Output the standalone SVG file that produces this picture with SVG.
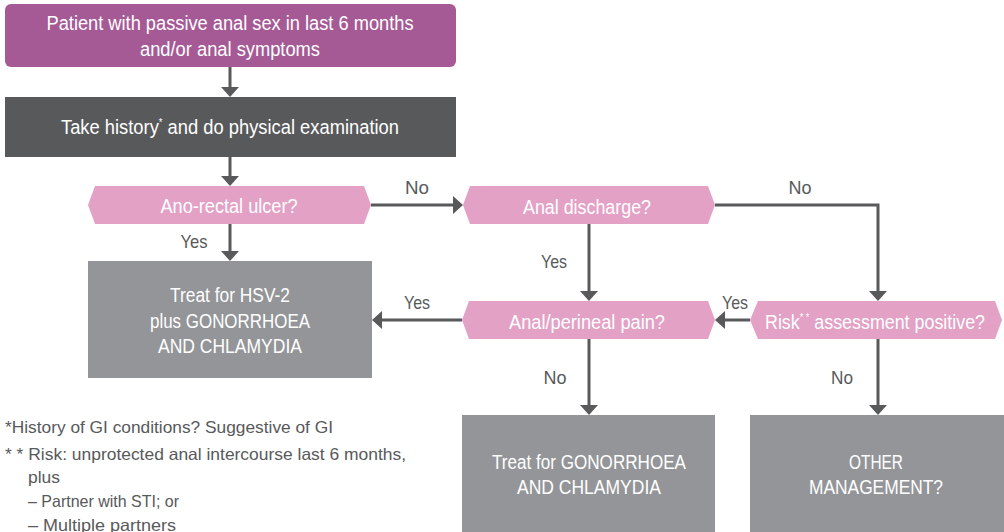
<svg xmlns="http://www.w3.org/2000/svg" width="1004" height="532" viewBox="0 0 1004 532">
<defs>
<style>
.t{font-family:"Liberation Sans Narrow","Liberation Sans",Arial,sans-serif;font-size:19.5px;fill:#ffffff;text-anchor:middle}
.l{font-family:"Liberation Sans Narrow","Liberation Sans",Arial,sans-serif;font-size:19px;fill:#58595B;text-anchor:middle}
.f{font-family:"Liberation Sans Narrow","Liberation Sans",Arial,sans-serif;font-size:16.5px;fill:#58595B}
.hex{fill:#E3A1C6}
.box{fill:#939598}
.c{fill:none;stroke:#58595B;stroke-width:3}
</style>
<marker id="ah" markerUnits="userSpaceOnUse" markerWidth="11" markerHeight="19" refX="2" refY="9" orient="auto" viewBox="0 0 11 18">
<path d="M0,0 L10,9 L0,18 Z" fill="#58595B"/>
</marker>
</defs>
<rect width="1004" height="532" fill="#ffffff"/>

<g id="connectors">
<path class="c" d="M230,67 V89" marker-end="url(#ah)"/>
<path class="c" d="M230,157 V178" marker-end="url(#ah)"/>
<path class="c" d="M371,205 H455" marker-end="url(#ah)"/>
<path class="c" d="M230,224 V253" marker-end="url(#ah)"/>
<path class="c" d="M715,205 H878 V293" marker-end="url(#ah)"/>
<path class="c" d="M589,224 V293" marker-end="url(#ah)"/>
<path class="c" d="M750,320 H723" marker-end="url(#ah)"/>
<path class="c" d="M462,320 H380" marker-end="url(#ah)"/>
<path class="c" d="M589,339 V407" marker-end="url(#ah)"/>
<path class="c" d="M878,339 V407" marker-end="url(#ah)"/>
<text class="l" x="417" y="194" textLength="24" lengthAdjust="spacingAndGlyphs">No</text>
<text class="l" x="800" y="194" textLength="23" lengthAdjust="spacingAndGlyphs">No</text>
<text class="l" x="194" y="248" textLength="27" lengthAdjust="spacingAndGlyphs">Yes</text>
<text class="l" x="554" y="268" textLength="26" lengthAdjust="spacingAndGlyphs">Yes</text>
<text class="l" x="417" y="309" textLength="26" lengthAdjust="spacingAndGlyphs">Yes</text>
<text class="l" x="735" y="309" textLength="26" lengthAdjust="spacingAndGlyphs">Yes</text>
<text class="l" x="555" y="384" textLength="23" lengthAdjust="spacingAndGlyphs">No</text>
<text class="l" x="842" y="384" textLength="22" lengthAdjust="spacingAndGlyphs">No</text>
</g>

<g id="start">
<rect x="5" y="4" width="451" height="63" rx="6" fill="#A65A95"/>
<text class="t" x="230" y="30" textLength="367" lengthAdjust="spacingAndGlyphs">Patient with passive anal sex in last 6 months</text>
<text class="t" x="230" y="56" textLength="180" lengthAdjust="spacingAndGlyphs">and/or anal symptoms</text>
</g>

<g id="history">
<rect x="5" y="97" width="451" height="60" fill="#58595B"/>
<text class="t" x="230" y="134" textLength="338" lengthAdjust="spacingAndGlyphs">Take history<tspan font-size="10" dy="-8">*</tspan><tspan dy="8"> and do physical examination</tspan></text>
</g>

<g id="ulcer">
<polygon class="hex" points="88,205 95,186 364,186 371,205 364,224 95,224"/>
<text class="t" x="229" y="213" textLength="137" lengthAdjust="spacingAndGlyphs">Ano-rectal ulcer?</text>
</g>

<g id="discharge">
<polygon class="hex" points="463,205 470,186 708,186 715,205 708,224 470,224"/>
<text class="t" x="587" y="214" textLength="128" lengthAdjust="spacingAndGlyphs">Anal discharge?</text>
</g>

<g id="hsv">
<rect class="box" x="88" y="261" width="284" height="117"/>
<text class="t" x="230" y="302" textLength="120" lengthAdjust="spacingAndGlyphs">Treat for HSV-2</text>
<text class="t" x="230" y="328" textLength="160" lengthAdjust="spacingAndGlyphs">plus GONORRHOEA</text>
<text class="t" x="230" y="353" textLength="144" lengthAdjust="spacingAndGlyphs">AND CHLAMYDIA</text>
</g>

<g id="pain">
<polygon class="hex" points="462,320 469,301 708,301 715,320 708,339 469,339"/>
<text class="t" x="587" y="329" textLength="156" lengthAdjust="spacingAndGlyphs">Anal/perineal pain?</text>
</g>

<g id="risk">
<polygon class="hex" points="750,320 758,301 995,301 1002,320 995,339 758,339"/>
<text class="t" x="875" y="329" textLength="220" lengthAdjust="spacingAndGlyphs">Risk<tspan font-size="10" dy="-8">* *</tspan><tspan dy="8"> assessment positive?</tspan></text>
</g>

<g id="treat-gc">
<rect class="box" x="462" y="415" width="253" height="117"/>
<text class="t" x="589" y="469" textLength="194" lengthAdjust="spacingAndGlyphs">Treat for GONORRHOEA</text>
<text class="t" x="589" y="494" textLength="144" lengthAdjust="spacingAndGlyphs">AND CHLAMYDIA</text>
</g>

<g id="other">
<rect class="box" x="750" y="415" width="254" height="117"/>
<text class="t" x="876" y="469" textLength="54" lengthAdjust="spacingAndGlyphs">OTHER</text>
<text class="t" x="876" y="494" textLength="134" lengthAdjust="spacingAndGlyphs">MANAGEMENT?</text>
</g>

<g id="footnotes">
<text class="f" x="5" y="433" textLength="328" lengthAdjust="spacingAndGlyphs">*History of GI conditions? Suggestive of GI</text>
<text class="f" x="5" y="460" textLength="401" lengthAdjust="spacingAndGlyphs">* * Risk: unprotected anal intercourse last 6 months,</text>
<text class="f" x="28" y="483" textLength="32" lengthAdjust="spacingAndGlyphs">plus</text>
<text class="f" x="28" y="507" textLength="151" lengthAdjust="spacingAndGlyphs">– Partner with STI; or</text>
<text class="f" x="28" y="531" textLength="148" lengthAdjust="spacingAndGlyphs">– Multiple partners</text>
</g>
</svg>
